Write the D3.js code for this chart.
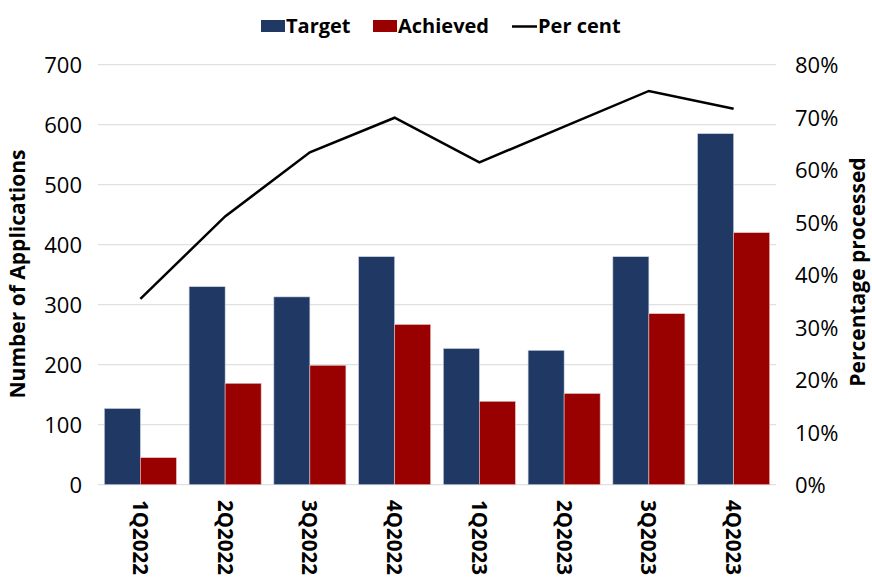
<!doctype html>
<html lang="en">
<head>
<meta charset="UTF-8">
<title>Applications: target vs achieved</title>
<script src="https://d3js.org/d3.v7.min.js"></script>
<style>
body { margin: 0; background-color: #ffffff; font-family: "Open Sans", sans-serif; }
svg { display: block; }
.grid line { stroke: #d9d9d9; stroke-width: 1; }
.axis text { font-family: "Open Sans", sans-serif; font-size: 22px; fill: #000; }
.title { font-family: "Open Sans", sans-serif; font-size: 21px; font-weight: bold; fill: #000; }
.legend text { font-family: "Open Sans", sans-serif; font-size: 20px; font-weight: bold; fill: #000; }
.cat { font-family: "Open Sans", sans-serif; font-size: 20.5px; font-weight: bold; fill: #000; }
path.pct { fill: none; stroke: #000; stroke-width: 2.5; }
</style>
</head>
<body>
<div id="plot"></div>
<script>

var quarters = ["1Q2022", "2Q2022", "3Q2022", "4Q2022", "1Q2023", "2Q2023", "3Q2023", "4Q2023"];
var target = [127, 330, 313, 380, 227, 224, 380, 585];
var achieved = [45, 169, 199, 267, 139, 152, 285, 420];
var perCent = [35.4, 51.1, 63.3, 69.9, 61.4, 68.2, 75.0, 71.6];
var leftTicks = [0, 100, 200, 300, 400, 500, 600, 700];
var rightTicks = [0, 10, 20, 30, 40, 50, 60, 70, 80];

var width = 872;
var height = 579;
var plotLeft = 98, plotRight = 776, plotTop = 64.7, plotBottom = 484.7;

var navy = "#203864";
var red = "#990000";

var svg = d3.select("#plot").append("svg")
	.attr("width", width)
	.attr("height", height);

var x0 = d3.scaleBand().domain(quarters)
	.range([plotLeft, plotRight])
	.paddingInner(0.15)
	.paddingOuter(0.075);

var x1 = d3.scaleBand().domain(["target", "achieved"])
	.range([0, x0.bandwidth()]);

var yLeft = d3.scaleLinear().domain([0, 700]).range([plotBottom, plotTop]);
var yRight = d3.scaleLinear().domain([0, 80]).range([plotBottom, plotTop]);

// gridlines
svg.append("g")
	.attr("class", "grid")
	.selectAll("line")
	.data(leftTicks)
	.enter().append("line")
	.attr("x1", plotLeft)
	.attr("x2", plotRight)
	.attr("y1", function (d) { return yLeft(d); })
	.attr("y2", function (d) { return yLeft(d); });

// left axis
var axisL = svg.append("g")
	.attr("class", "axis")
	.attr("transform", "translate(" + (plotLeft - 16) + ",0)")
	.call(d3.axisLeft(yLeft).tickValues(leftTicks).tickSize(0).tickPadding(0));
axisL.select(".domain").remove();
axisL.selectAll("text").attr("dy", "0.36em");

// right axis
var axisR = svg.append("g")
	.attr("class", "axis")
	.attr("transform", "translate(" + (plotRight + 19) + ",0)")
	.call(d3.axisRight(yRight).tickValues(rightTicks).tickSize(0).tickPadding(0)
		.tickFormat(function (d) { return d + "%"; }));
axisR.select(".domain").remove();
axisR.selectAll("text").attr("dy", "0.36em");

// bars
var groups = svg.append("g").selectAll("g")
	.data(quarters)
	.enter().append("g")
	.attr("transform", function (d) { return "translate(" + x0(d) + ",0)"; });

groups.append("rect")
	.attr("x", x1("target"))
	.attr("y", function (d, i) { return yLeft(target[i]); })
	.attr("width", x1.bandwidth())
	.attr("height", function (d, i) { return plotBottom - yLeft(target[i]); })
	.style("fill", navy)
	.style("stroke", "#c8d0e0")
	.style("stroke-width", 0.6);

groups.append("rect")
	.attr("x", x1("achieved"))
	.attr("y", function (d, i) { return yLeft(achieved[i]); })
	.attr("width", x1.bandwidth())
	.attr("height", function (d, i) { return plotBottom - yLeft(achieved[i]); })
	.style("fill", red)
	.style("stroke", "#e8c0c0")
	.style("stroke-width", 0.6);

// percentage line
var line = d3.line()
	.x(function (d, i) { return x0(quarters[i]) + x0.bandwidth() / 2; })
	.y(function (d) { return yRight(d); });

svg.append("path")
	.attr("class", "pct")
	.attr("d", line(perCent));

// category labels, rotated
svg.append("g").selectAll("text")
	.data(quarters)
	.enter().append("text")
	.attr("class", "cat")
	.attr("transform", function (d) {
		return "translate(" + (x0(d) + x0.bandwidth() / 2 - 7.5) + "," + 500 + ") rotate(90)";
	})
	.text(function (d) { return d; });

// axis titles
svg.append("text")
	.attr("class", "title")
	.attr("transform", "translate(25,274) rotate(-90)")
	.attr("text-anchor", "middle")
	.text("Number of Applications");

svg.append("text")
	.attr("class", "title")
	.attr("transform", "translate(865,272) rotate(-90)")
	.attr("text-anchor", "middle")
	.text("Percentage processed");

// legend
var legend = svg.append("g").attr("class", "legend");

legend.append("rect")
	.attr("x", 261).attr("y", 20).attr("width", 24).attr("height", 12)
	.style("fill", navy);
legend.append("text").attr("x", 286).attr("y", 32.5).text("Target");

legend.append("rect")
	.attr("x", 373).attr("y", 20).attr("width", 24).attr("height", 12)
	.style("fill", red);
legend.append("text").attr("x", 398).attr("y", 32.5).text("Achieved");

legend.append("line")
	.attr("x1", 512).attr("x2", 537).attr("y1", 26.5).attr("y2", 26.5)
	.style("stroke", "#000").style("stroke-width", 2.5);
legend.append("text").attr("x", 538).attr("y", 32.5).text("Per cent");

</script>
</body>
</html>
